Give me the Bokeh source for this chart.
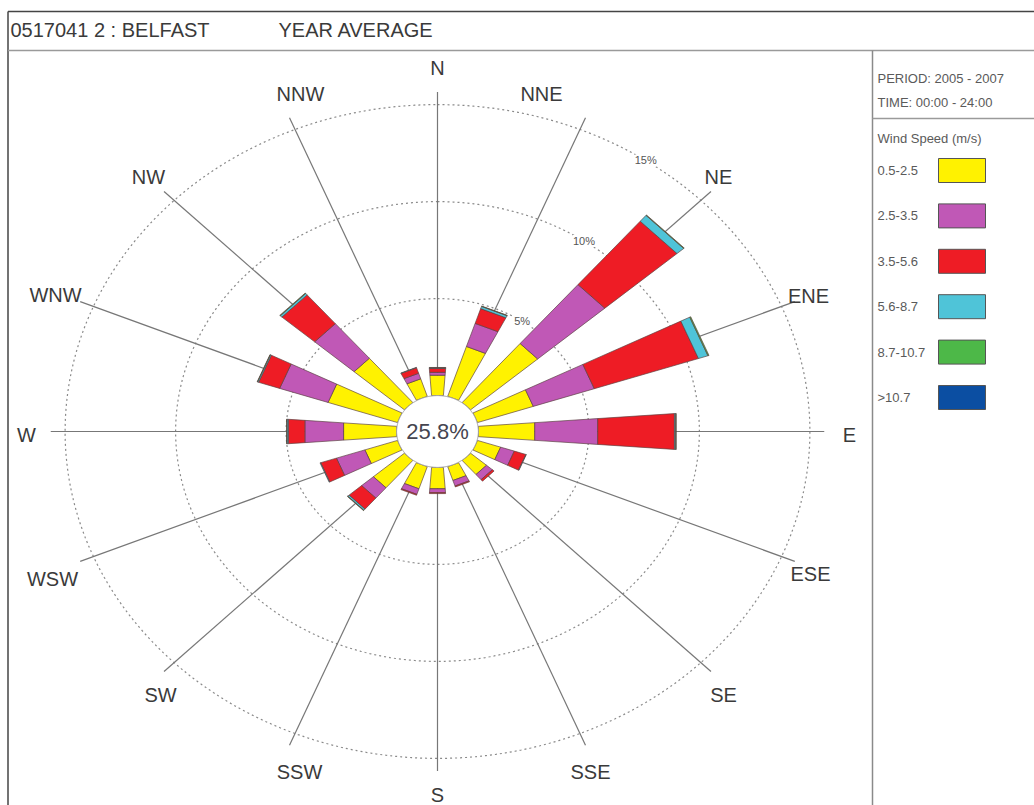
import numpy as np
from bokeh.plotting import figure
from bokeh.models import Range1d
from bokeh.core.properties import value
from bokeh.embed import file_html
from bokeh.resources import INLINE

# ---------------- data ----------------
directions = ["N", "NNE", "NE", "ENE", "E", "ESE", "SE", "SSE",
              "S", "SSW", "SW", "WSW", "W", "WNW", "NW", "NNW"]
direction_deg = [0, 22.5, 45, 67.5, 90, 112.5, 135, 157.5,
                 180, 202.5, 225, 247.5, 270, 292.5, 315, 337.5]
speed_labels = ["0.5-2.5", "2.5-3.5", "3.5-5.6", "5.6-8.7", "8.7-10.7", ">10.7"]
speed_colors = ["#FFF200", "#C058B6", "#EE1C25", "#4FC4D8", "#4DB848", "#0B4EA2"]

# frequency (%) per direction, one list per speed class
pct_05_25 = [1.05, 2.70, 4.00, 2.65, 2.55, 1.10, 0.95, 0.75, 1.10, 1.20, 1.85, 1.55, 2.40, 3.30, 3.00, 0.95]
pct_25_35 = [0.15, 1.25, 4.00, 2.90, 2.85, 0.65, 0.35, 0.30, 0.20, 0.30, 0.70, 1.35, 1.75, 2.30, 2.35, 0.30]
pct_35_56 = [0.20, 0.80, 4.30, 4.95, 3.47, 0.55, 0.10, 0.05, 0.05, 0.05, 0.75, 0.75, 0.75, 1.00, 1.95, 0.30]
pct_56_87 = [0.03, 0.12, 0.40, 0.45, 0.06, 0.02, 0.00, 0.00, 0.00, 0.00, 0.08, 0.03, 0.06, 0.05, 0.10, 0.02]
pct_87_107 = [0.02, 0.02, 0.03, 0.05, 0.02, 0.00, 0.00, 0.00, 0.00, 0.00, 0.02, 0.00, 0.02, 0.02, 0.03, 0.00]
pct_gt_107 = [0.00] * 16
speed_series = [pct_05_25, pct_25_35, pct_35_56, pct_56_87, pct_87_107, pct_gt_107]

calm_pct = 25.8
ring_values = [5, 10, 15]
ring_labels = ["5%", "10%", "15%"]

title_left = "0517041 2 : BELFAST"
title_right = "YEAR AVERAGE"
period_text = "PERIOD: 2005 - 2007"
time_text = "TIME: 00:00 - 24:00"
legend_title = "Wind Speed (m/s)"

# ---------------- layout ----------------
W, H = 1034, 805
CXP, CYP = 437.0, 431.0        # centre in page pixels
SX, SY = 22.1, 19.4            # pixels per % (horizontal / vertical)
C = 1.85                       # calm circle radius (in % units)
A_W, B_W = 0.13, 0.074         # bar half-width = A_W + B_W * r
R_SPOKE = 17.5
# direction label centres (page pixels), same order as `directions`
label_px = [(437, 67), (541, 93), (718, 176), (808, 295), (849, 434), (810, 573),
            (723, 694), (590, 771), (437, 794), (299, 771), (160, 694), (52, 578),
            (26, 434), (55, 294), (148, 176), (300, 93)]


def px2x(px):
    return (px - CXP) / SX


def py2y(py):
    return (CYP - py) / SY


FONT = value("Liberation Sans")

p = figure(width=W, height=H, x_range=Range1d(px2x(0), px2x(W)),
           y_range=Range1d(py2y(H), py2y(0)),
           x_axis_location=None, y_axis_location=None,
           tools="", toolbar_location=None, min_border=0,
           output_backend="svg", background_fill_color="white",
           border_fill_color="white", outline_line_color=None)
p.grid.visible = False

# frame lines (page pixel coordinates)
fx0 = [7.5, 7.5, 7.5, 872, 872]
fy0 = [11, 11, 50, 50, 118]
fx1 = [1034, 7.5, 1034, 872, 1034]
fy1 = [11, 805, 50, 805, 118]
fcol = ["#444444", "#444444", "#9a9a9a", "#8a8a8a", "#9a9a9a"]
p.segment(x0=[px2x(v) for v in fx0], y0=[py2y(v) for v in fy0],
          x1=[px2x(v) for v in fx1], y1=[py2y(v) for v in fy1],
          line_color=fcol, line_width=1.5)

# title
p.text(x=[px2x(10), px2x(278)], y=[py2y(29), py2y(29)], text=[title_left, title_right],
       text_font=FONT, text_font_size="20px", text_color="#3a3a3a",
       text_baseline="middle", text_align="left")

# rings
t = np.linspace(0, 2 * np.pi, 721)
for rv in ring_values:
    R = C + rv
    p.line(R * np.sin(t), R * np.cos(t), line_color="#8a8a8a", line_width=1.2, line_dash="2 3")

# spokes
th = np.radians(direction_deg)
p.segment(x0=C * np.sin(th), y0=C * np.cos(th), x1=R_SPOKE * np.sin(th), y1=R_SPOKE * np.cos(th),
          line_color="#777777", line_width=1.2)

# bars
xs, ys, fills = [], [], []
for i in range(len(directions)):
    a = th[i]
    ux, uy = np.sin(a), np.cos(a)
    vx, vy = np.cos(a), -np.sin(a)
    r0 = C
    for k, series in enumerate(speed_series):
        val = series[i]
        if val <= 0:
            continue
        r1 = r0 + val
        w0, w1 = A_W + B_W * r0, A_W + B_W * r1
        xs.append([ux * r0 - vx * w0, ux * r1 - vx * w1, ux * r1 + vx * w1, ux * r0 + vx * w0])
        ys.append([uy * r0 - vy * w0, uy * r1 - vy * w1, uy * r1 + vy * w1, uy * r0 + vy * w0])
        fills.append(speed_colors[k])
        r0 = r1
p.patches(xs, ys, fill_color=fills, line_color="#5a4040", line_width=0.9, line_alpha=0.75)

# calm circle
p.patch(C * np.sin(t), C * np.cos(t), fill_color="white", line_color="#9a9a9a", line_width=1)
p.text(x=[0], y=[0], text=[f"{calm_pct}%"], text_font=FONT, text_font_size="22px",
       text_color="#454550", text_align="center", text_baseline="middle")

# ring labels
la = np.radians(34)
p.text(x=[(C + rv) * np.sin(la) for rv in ring_values], y=[(C + rv) * np.cos(la) for rv in ring_values],
       text=ring_labels, text_font=FONT, text_font_size="11px", text_color="#555555",
       text_align="center", text_baseline="middle", background_fill_color="white")

# direction labels
p.text(x=[px2x(a) for a, b in label_px], y=[py2y(b) for a, b in label_px], text=directions,
       text_font=FONT, text_font_size="20px", text_color="#3a3a3a",
       text_align="center", text_baseline="middle")

# legend panel
p.text(x=[px2x(877)] * 3, y=[py2y(78), py2y(102), py2y(138)],
       text=[period_text, time_text, legend_title], text_font=FONT, text_font_size="13px",
       text_color="#5a5a5a", text_align="left", text_baseline="middle")
leg_y = [170 + 45.4 * k for k in range(len(speed_labels))]
p.quad(left=[px2x(938)] * 6, right=[px2x(985)] * 6,
       top=[py2y(v - 12) for v in leg_y], bottom=[py2y(v + 12) for v in leg_y],
       fill_color=speed_colors, line_color="#555555", line_width=1)
p.text(x=[px2x(877)] * 6, y=[py2y(v) for v in leg_y], text=speed_labels, text_font=FONT,
       text_font_size="13px", text_color="#5a5a5a", text_align="left", text_baseline="middle")

open("out.html", "w").write(file_html(p, INLINE))
